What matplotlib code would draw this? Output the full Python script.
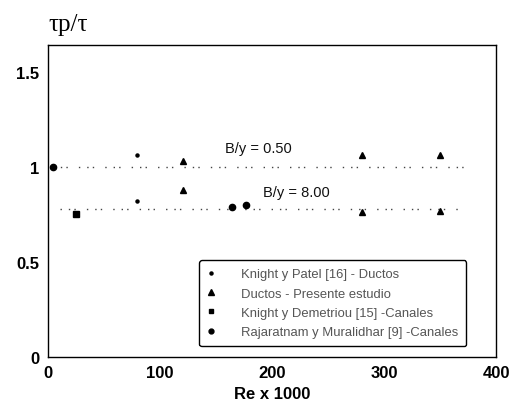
import matplotlib
matplotlib.use("Agg")
import matplotlib.pyplot as plt
from matplotlib.lines import Line2D

plt.rcParams['font.family'] = ['Liberation Sans', 'DejaVu Sans']

# Knight y Patel [16] - Ductos
patel_x = [79.5, 79.5]
patel_y = [1.06, 0.82]
# Ductos - Presente estudio
ductos_x = [120.5, 280, 350, 120.5, 280, 350]
ductos_y = [1.03, 1.06, 1.06, 0.88, 0.76, 0.77]
# Knight y Demetriou [15] - Canales
demetriou_x = [25]
demetriou_y = [0.75]
# Rajaratnam y Muralidhar [9] - Canales
raja_x = [5, 164, 177]
raja_y = [1.0, 0.79, 0.80]

# lignes pointillées B/y
lines_x = [[4, 379], [11, 370]]
lines_y = [1.0, 0.78]
line_labels = ["B/y = 0.50", "B/y = 8.00"]
label_pos = [(158, 1.10), (192, 0.868)]

fig = plt.figure(figsize=(5.14, 4.14), dpi=100)
ax = fig.add_axes([0.093, 0.135, 0.872, 0.754])

for (x0, x1), yv in zip(lines_x, lines_y):
    ax.plot([x0, x1], [yv, yv], color='#444444', lw=1.0, linestyle=(0, (1, 5, 1, 3, 1, 8)))
for txt, (tx, ty) in zip(line_labels, label_pos):
    ax.text(tx, ty, txt, fontsize=10.5, color='#111111', ha='left', va='center')

ax.plot(patel_x, patel_y, 'o', color='black', ms=2.2, ls='none')
ax.plot(ductos_x, ductos_y, '^', color='black', ms=4.5, ls='none')
ax.plot(demetriou_x, demetriou_y, 's', color='black', ms=4, ls='none')
ax.plot(raja_x, raja_y, 'o', color='black', ms=4.5, ls='none')

ax.set_xlim(0, 400)
ax.set_ylim(0, 1.64)
ax.set_xticks([0, 100, 200, 300, 400])
ax.set_yticks([0, 0.5, 1, 1.5])
ax.set_yticklabels(["0", "0.5", "1", "1.5"])
ax.tick_params(length=0, labelsize=12, pad=6)
for lab in ax.get_xticklabels() + ax.get_yticklabels():
    lab.set_fontweight('bold')
ax.set_xlabel("Re x 1000", fontsize=12, fontweight='bold', labelpad=4)
for sp in ax.spines.values():
    sp.set_linewidth(1.0)

fig.text(0.095, 0.94, "τp/τ", fontsize=18, family=['Liberation Serif', 'DejaVu Serif'],
         ha='left', va='center')

handles = [
    Line2D([], [], marker='o', color='black', ms=2.2, ls='none'),
    Line2D([], [], marker='^', color='black', ms=4, ls='none'),
    Line2D([], [], marker='s', color='black', ms=3.5, ls='none'),
    Line2D([], [], marker='o', color='black', ms=3.5, ls='none'),
]
labels = ["Knight y Patel [16] - Ductos", "Ductos - Presente estudio",
          "Knight y Demetriou [15] -Canales", "Rajaratnam y Muralidhar [9] -Canales"]
leg = ax.legend(handles, labels, loc='lower left', bbox_to_anchor=(0.338, 0.035),
                borderaxespad=0, fontsize=9.4, frameon=True, fancybox=True,
                handletextpad=2.0, handlelength=0.6, labelspacing=0.55,
                borderpad=0.6, framealpha=1)
leg.get_frame().set_edgecolor('black')
leg.get_frame().set_linewidth(1.0)
for t in leg.get_texts():
    t.set_color('#555555')

fig.savefig("out.png", dpi=100)
